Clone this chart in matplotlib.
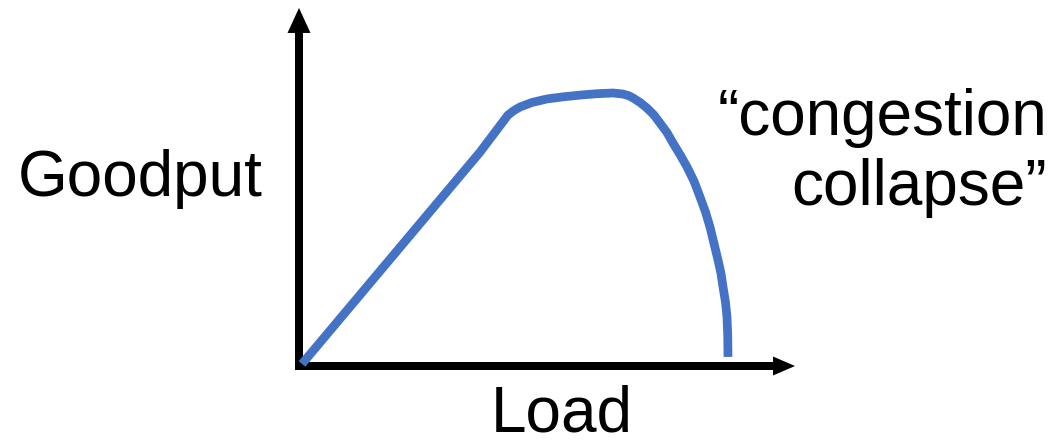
import matplotlib
matplotlib.use("Agg")
import matplotlib.pyplot as plt

# Schematic data (Load vs Goodput)
load = [0.06, 3.62, 4.18, 4.30, 4.42, 4.66, 4.96, 5.28, 5.62, 5.96, 6.28, 6.48, 6.60, 6.68,
        6.82, 6.96, 7.10, 7.22, 7.36, 7.48, 7.62, 7.76, 7.90, 8.02, 8.13, 8.22, 8.30,
        8.38, 8.44, 8.48, 8.53, 8.56, 8.575, 8.58]
goodput = [0.06, 6.11, 7.17, 7.30, 7.40, 7.53, 7.63, 7.69, 7.74, 7.78, 7.80, 7.77, 7.72, 7.66,
           7.53, 7.37, 7.17, 6.94, 6.67, 6.37, 6.04, 5.69, 5.28, 4.83, 4.40, 3.97, 3.50,
           3.03, 2.64, 2.26, 1.82, 1.40, 0.85, 0.26]

x_label = "Load"
y_label = "Goodput"
annot_lines = ["\u201ccongestion", "collapse\u201d"]

W, H = 1056, 442
fig = plt.figure(figsize=(W / 100, H / 100), dpi=100)
ax = fig.add_axes([0, 0, 1, 1])
# pixel mapping: x = 299 + 50*load, y(top-down) = 366 - 35*goodput
ax.set_xlim(-299 / 50, (W - 299) / 50)
ax.set_ylim(-(H - 366) / 35, 366 / 35)
ax.axis("off")

# axes arrows
ax.arrow(0, -0.11, 0, 10.34, width=8 / 50, head_width=23 / 50, head_length=25 / 35,
         length_includes_head=True, color="black", lw=0)
ax.arrow(-0.08, 0, 10.0, 0, width=8 / 35, head_width=19 / 35, head_length=22 / 50,
         length_includes_head=True, color="black", lw=0)

ax.plot(load, goodput, color="#4472C4", lw=6.3, solid_capstyle="butt",
        solid_joinstyle="round", zorder=3)

font = "Liberation Sans"
fs = 46
fig.text(18 / W, (H - 196) / H, y_label, ha="left", va="baseline", fontsize=fs, family=font)
fig.text(562 / W, (H - 431) / H, x_label, ha="center", va="baseline", fontsize=fs, family=font)
fig.text(1047 / W, (H - 135) / H, annot_lines[0], ha="right", va="baseline", fontsize=fs, family=font)
fig.text(1047 / W, (H - 205) / H, annot_lines[1], ha="right", va="baseline", fontsize=fs, family=font)

fig.savefig("out.png", dpi=100, facecolor="white")
